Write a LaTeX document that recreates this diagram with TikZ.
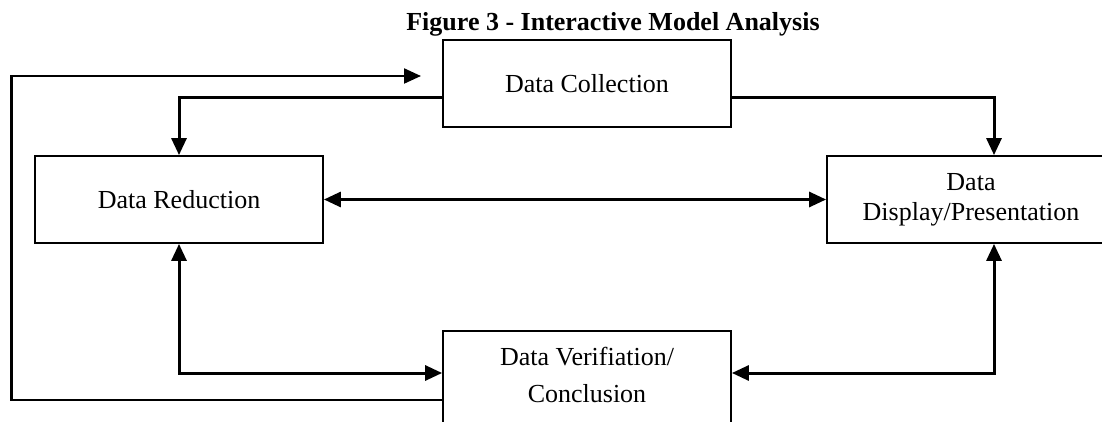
\documentclass[tikz,border=0pt]{standalone}
\usepackage{fontspec}
\setmainfont{Liberation Serif}
\usetikzlibrary{arrows.meta}
\begin{document}
\begin{tikzpicture}[x=1pt,y=-1pt,
  box/.style={draw, line width=1.8pt, minimum width=288pt, minimum height=87pt, inner sep=0pt, align=center, font=\fontsize{26}{30}\selectfont},
  txt/.style={inner sep=0pt, align=center, font=\fontsize{26}{30}\selectfont},
  title/.style={inner sep=0pt, font=\fontsize{26}{30}\selectfont\bfseries},
  tip/.tip={Triangle[length=17pt,width=15pt]},
  conn/.style={line width=3pt, -tip},
  both/.style={line width=3pt, tip-tip},
  fb/.style={line width=2.2pt}]
\useasboundingbox (0,0) rectangle (1102,422);
\clip (0,0) rectangle (1102,422);
\node[title, anchor=base] (t) at (613,31) {Figure 3 - Interactive Model Analysis};
\node[box] (col) at (587,83.5) {Data Collection};
\node[box] (red) at (179,199.5) {Data Reduction};
\node[box] (dis) at (971,199.5) {Data\\Display/Presentation};
\node[box, minimum height=110pt] (ver) at (587,386) {};
\node[txt] (vt) at (587,375) {Data Verifiation/\\[7pt]Conclusion};
\draw[conn] ([yshift=-14.5pt]col.west) -| (red.north);
\draw[conn] ([yshift=-14.5pt]col.east) -| ([xshift=23pt]dis.north);
\draw[both] (red.east) -- (dis.west);
\draw[both] (red.south) |- ([yshift=13pt]ver.west);
\draw[both] ([xshift=23pt]dis.south) |- ([yshift=13pt]ver.east);
\coordinate (fbcorner) at (11.5,76);
\coordinate (fbtip) at (421,76);
\draw[fb, -tip] ([yshift=-14pt]ver.west) -| (fbcorner) -- (fbtip);
\end{tikzpicture}
\end{document}
